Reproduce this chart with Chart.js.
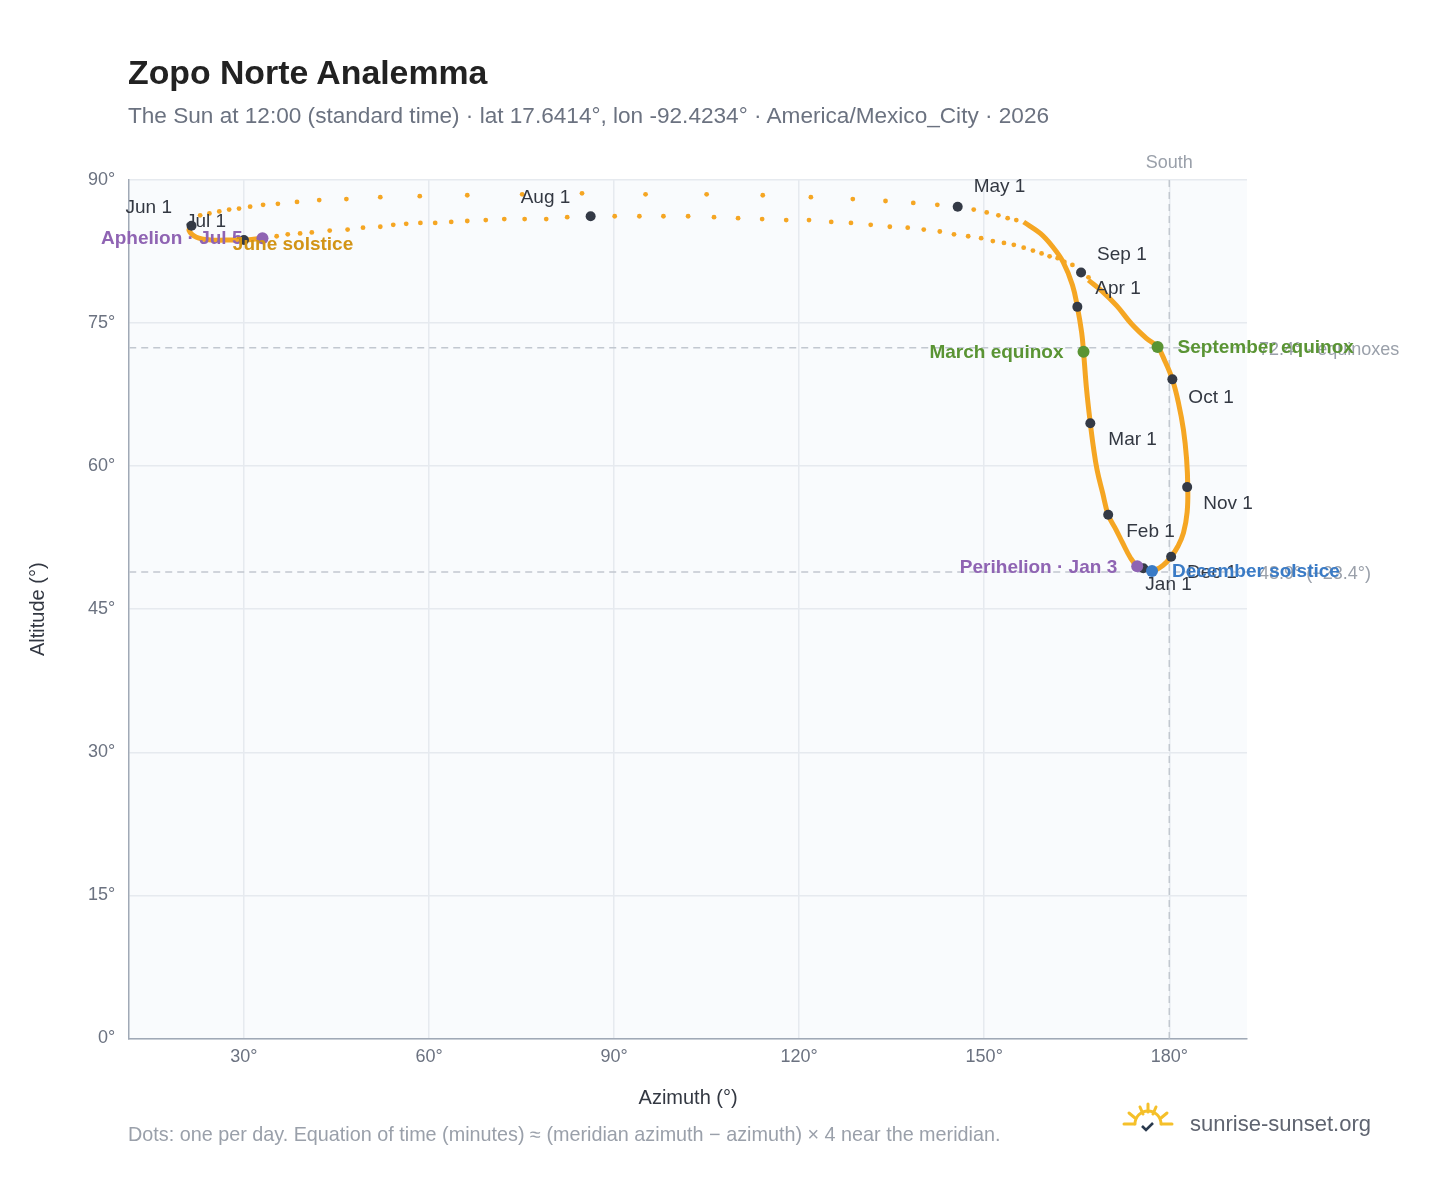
<!DOCTYPE html>
<html>
<head>
<meta charset="utf-8">
<script src="https://cdn.jsdelivr.net/npm/chart.js@4.4.1/dist/chart.umd.min.js"></script>
<style>
  body { margin: 0; background: #fff; font-family: "Liberation Sans", Arial, sans-serif; }
  #wrap { position: relative; width: 1448px; height: 1188px; }
  h1 { position: absolute; left: 128px; top: 53px; margin: 0; font-size: 33.8px; color: #222; }
  .sub { position: absolute; left: 128px; top: 103px; font-size: 22.6px; color: #6b7280; }
  .note { position: absolute; left: 128px; top: 1123px; font-size: 19.8px; color: #9aa0aa; }
  .brand { position: absolute; left: 1190px; top: 1111px; font-size: 22px; color: #5f6470; }
  canvas { position: absolute; left: 0; top: 0; }
</style>
</head>
<body>
<div id="wrap">
  <canvas id="chart" width="1448" height="1188"></canvas>
  <h1>Zopo Norte Analemma</h1>
  <div class="sub">The Sun at 12:00 (standard time) · lat 17.6414°, lon -92.4234° · America/Mexico_City · 2026</div>
  <div class="note">Dots: one per day. Equation of time (minutes) ≈ (meridian azimuth − azimuth) × 4 near the meridian.</div>
  <svg style="position:absolute;left:1120px;top:1102px" width="56" height="34" viewBox="0 0 56 34">
    <g stroke="#f5c02a" stroke-width="3" fill="none" stroke-linecap="round">
      <path d="M4 22 H14 M42 22 H52 M9 11 L15 16 M47 11 L41 16 M20 5 L23 12 M36 5 L33 12 M28 2 V10"/>
      <path d="M15 22 A13 13 0 0 1 41 22"/>
    </g>
    <path d="M22 24 L26 28 L33 21" stroke="#2a3a4e" stroke-width="2.6" fill="none"/>
  </svg>
  <div class="brand">sunrise-sunset.org</div>
</div>
<script>
// Sun position at local noon (azimuth °, altitude °)
// Sep 5 -> Dec 31 -> Jan 1 -> Apr 25 : dense, drawn as a thick line
const loopAz  = [166.9, 169.0, 171.5, 173.9, 176.3, 178.1, 179.3, 180.5, 181.5, 182.3, 182.8, 183.0, 182.9, 182.3, 181.4, 180.3, 179.0, 177.2, 175.8,
                 174.8, 173.7, 172.4, 171.4, 170.1, 169.2, 168.3, 167.7, 167.2, 166.6, 166.1, 165.8, 165.1, 164.3, 162.8, 161.1, 159.1, 156.4];
const loopAlt = [79.5, 78.4, 76.8, 74.9, 73.4, 72.5, 71.0, 69.1, 66.6, 63.8, 60.8, 57.8, 55.2, 53.0, 51.6, 50.5, 49.6, 49.0, 49.3,
                 49.5, 50.4, 52.0, 53.3, 54.9, 57.2, 59.6, 62.0, 64.5, 68.0, 72.0, 74.0, 76.7, 79.0, 81.4, 83.0, 84.4, 85.6];
// Jun 1 -> Jul 5 : dense near the solstice
const juneAz  = [21.5, 21.1, 22.3, 24.7, 27.1, 28.6, 30.0, 33.0];
const juneAlt = [85.2, 84.7, 84.0, 83.7, 83.7, 83.7, 83.7, 83.9];
// Apr 26 -> Jun 1 : single daily dots passing near the zenith
const mayAz  = [155.2, 153.8, 152.3, 150.4, 148.3, 145.7, 142.4, 138.5, 134.0, 128.7, 121.9, 114.1, 105.0, 95.1, 84.8, 75.1, 66.2,
                58.5, 52.1, 46.6, 42.2, 38.6, 35.5, 33.1, 31.0, 29.2, 27.6, 26.0, 24.4, 22.9];
const mayAlt = [85.8, 86.0, 86.3, 86.6, 86.9, 87.2, 87.4, 87.6, 87.8, 88.0, 88.2, 88.4, 88.5, 88.5, 88.6, 88.5, 88.4,
                88.3, 88.2, 88.0, 87.9, 87.7, 87.5, 87.4, 87.2, 87.0, 86.9, 86.7, 86.5, 86.3];
// Jul 6 -> Sep 4 : daily dots back across the sky
const augAz  = [35.3, 37.1, 39.1, 41.0, 43.9, 46.8, 49.3, 52.1, 54.2, 56.3, 58.6, 61.0, 63.6, 66.2, 69.2, 72.2, 75.5, 79.0, 82.4, 86.2,
                90.1, 94.1, 98.0, 102.0, 106.2, 110.1, 114.0, 117.9, 121.6, 125.2, 128.4, 131.6, 134.7, 137.6, 140.2, 142.8, 145.1, 147.4,
                149.5, 151.4, 153.2, 154.8, 156.4, 157.9, 159.3, 160.6, 161.9, 163.0, 164.3, 166.1, 166.9];
const augAlt = [84.1, 84.3, 84.4, 84.5, 84.7, 84.8, 85.0, 85.1, 85.3, 85.4, 85.5, 85.5, 85.6, 85.7, 85.8, 85.9, 85.9, 85.9, 86.1, 86.1,
                86.2, 86.2, 86.2, 86.2, 86.1, 86.0, 85.9, 85.8, 85.8, 85.6, 85.5, 85.3, 85.1, 85.0, 84.8, 84.6, 84.3, 84.1,
                83.9, 83.6, 83.4, 83.2, 82.9, 82.6, 82.3, 82.0, 81.8, 81.4, 81.1, 80.3, 79.8];

// First-of-month markers
const monthNames = ['Jan 1', 'Feb 1', 'Mar 1', 'Apr 1', 'May 1', 'Jun 1', 'Jul 1', 'Aug 1', 'Sep 1', 'Oct 1', 'Nov 1', 'Dec 1'];
const monthAz  = [175.8, 170.1, 167.2, 165.1, 145.7, 21.5, 30.0, 86.2, 165.7, 180.5, 182.9, 180.3];
const monthAlt = [49.3, 54.9, 64.5, 76.7, 87.2, 85.2, 83.7, 86.2, 80.3, 69.1, 57.8, 50.5];
const monthOffsets = [[2, -17], [18, -17], [18, -17], [18, 18], [16, 20], [-66, 18], [-58, 18], [-70, 18], [16, 18], [16, -18], [16, -17], [16, -16]];

// Special events
const eventNames = ['March equinox', 'September equinox', 'Perihelion · Jan 3', 'December solstice', 'Aphelion · Jul 5', 'June solstice'];
const eventAz  = [166.1, 178.1, 174.8, 177.2, 33.0, 28.2];
const eventAlt = [72.0, 72.5, 49.5, 49.0, 83.9, 83.7];
const eventColors = ['#5a9434', '#5a9434', '#8f64b3', '#3a7bc6', '#8f64b3', '#d29416'];

const refAlt = [72.4, 48.9];
const refLabels = ['72.4° · equinoxes', '48.9° (−23.4°)'];

const pts = (xs, ys) => xs.map((x, i) => ({ x: x, y: ys[i] }));
const ORANGE = '#f5a623';
const FONT = '"Liberation Sans", Arial';

const overlay = {
  id: 'overlay',
  beforeDatasetsDraw(chart) {
    const { ctx, chartArea: a, scales: { x, y } } = chart;
    ctx.save();
    ctx.setLineDash([7, 5]);
    ctx.strokeStyle = '#c2c8d0';
    ctx.lineWidth = 1.5;
    refAlt.forEach(v => {
      const py = y.getPixelForValue(v);
      ctx.beginPath(); ctx.moveTo(a.left, py); ctx.lineTo(a.right, py); ctx.stroke();
    });
    const sx = x.getPixelForValue(180);
    ctx.beginPath(); ctx.moveTo(sx, a.top); ctx.lineTo(sx, a.bottom); ctx.stroke();
    ctx.setLineDash([]);
    ctx.fillStyle = '#9aa0aa';
    ctx.font = '18px ' + FONT;
    ctx.textAlign = 'center';
    ctx.fillText('South', sx, a.top - 12);
    ctx.textAlign = 'left';
    ctx.textBaseline = 'middle';
    refLabels.forEach((t, i) => ctx.fillText(t, a.right + 12, y.getPixelForValue(refAlt[i]) + 2));
    ctx.restore();
  },
  afterDatasetsDraw(chart) {
    const { ctx, scales: { x, y } } = chart;
    ctx.save();
    ctx.textBaseline = 'middle';
    ctx.font = '19px ' + FONT;
    ctx.fillStyle = '#333842';
    monthNames.forEach((t, i) => {
      const o = monthOffsets[i];
      ctx.textAlign = 'left';
      ctx.fillText(t, x.getPixelForValue(monthAz[i]) + o[0], y.getPixelForValue(monthAlt[i]) - o[1]);
    });
    ctx.font = 'bold 19px ' + FONT;
    const side = [-1, 1, -1, 1, -1, 1];
    eventNames.forEach((t, i) => {
      ctx.fillStyle = eventColors[i];
      ctx.textAlign = side[i] < 0 ? 'right' : 'left';
      const px = x.getPixelForValue(eventAz[i]) + side[i] * (i === 5 ? 0 : 20);
      const dy = i === 5 ? 5 : 1;
      ctx.fillText(t, px, y.getPixelForValue(eventAlt[i]) + dy);
    });
    ctx.restore();
  }
};

const plotBg = {
  id: 'plotBg',
  beforeDraw(chart) {
    const { ctx, chartArea: a } = chart;
    ctx.save();
    ctx.fillStyle = '#f9fbfd';
    ctx.fillRect(a.left, a.top, a.right - a.left, a.bottom - a.top);
    ctx.restore();
  }
};

new Chart(document.getElementById('chart'), {
  type: 'scatter',
  data: {
    datasets: [
      { data: pts(loopAz, loopAlt), showLine: true, borderColor: ORANGE, borderWidth: 5, pointRadius: 0, tension: 0.4, order: 3 },
      { data: pts(juneAz, juneAlt), showLine: true, borderColor: ORANGE, borderWidth: 5, pointRadius: 0, tension: 0.4, order: 3 },
      { data: pts(mayAz, mayAlt), backgroundColor: ORANGE, pointRadius: 2.4, borderWidth: 0, order: 2 },
      { data: pts(augAz, augAlt), backgroundColor: ORANGE, pointRadius: 2.4, borderWidth: 0, order: 2 },
      { data: pts(monthAz, monthAlt), backgroundColor: '#343a46', borderWidth: 0, pointRadius: 5, order: 1 },
      { data: pts(eventAz.slice(0, 5), eventAlt.slice(0, 5)), backgroundColor: eventColors.slice(0, 5), borderWidth: 0, pointRadius: 6, order: 0 }
    ]
  },
  options: {
    responsive: false,
    animation: false,
    layout: { padding: { left: 22, right: 201, top: 180, bottom: 74 } },
    plugins: { legend: { display: false }, tooltip: { enabled: false } },
    scales: {
      x: {
        min: 11.4, max: 192.6,
        afterBuildTicks: s => { s.ticks = [30, 60, 90, 120, 150, 180].map(v => ({ value: v })); },
        ticks: { callback: v => v + '°', color: '#6b7280', font: { size: 18 }, padding: 8 },
        grid: { color: '#e6eaef', lineWidth: 1.5, drawTicks: false },
        border: { color: '#a0a9b6', width: 1.5 },
        title: { display: true, text: 'Azimuth (°)', color: '#333842', font: { size: 20 }, padding: { top: 10 } }
      },
      y: {
        min: 0, max: 90,
        ticks: { stepSize: 15, callback: v => v + '°', color: '#6b7280', font: { size: 18 }, padding: 14 },
        grid: { color: '#e6eaef', lineWidth: 1.5, drawTicks: false },
        border: { color: '#a0a9b6', width: 1.5 },
        title: { display: true, text: 'Altitude (°)', color: '#333842', font: { size: 20 }, padding: { bottom: 24 } }
      }
    }
  },
  plugins: [plotBg, overlay]
});
</script>
</body>
</html>
